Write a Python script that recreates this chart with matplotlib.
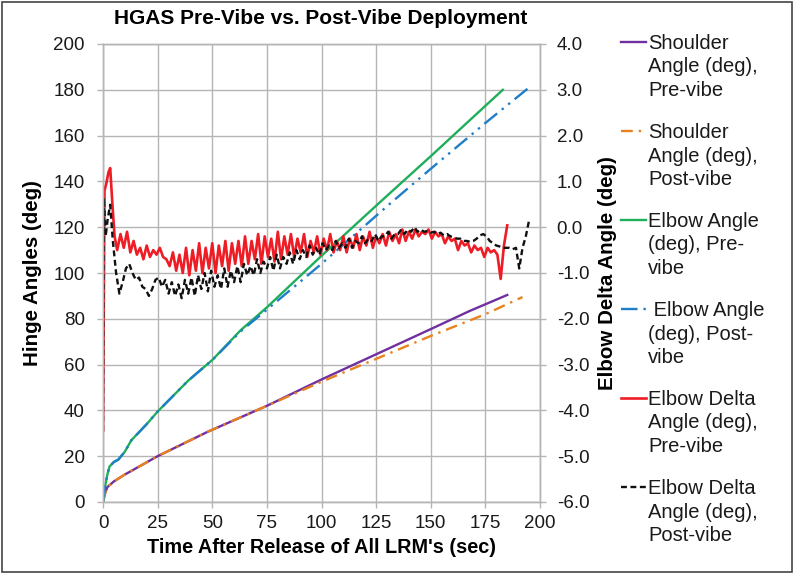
import numpy as np
import matplotlib
matplotlib.use("Agg")
import matplotlib.pyplot as plt
from matplotlib.lines import Line2D
from matplotlib.patches import Rectangle

plt.rcParams['font.family'] = ['Liberation Sans', 'DejaVu Sans']

# ---------------- data ----------------
# Hinge angles (deg) vs time (s)
shoulder_pre_t = [0, 1, 2, 5, 10, 25, 48, 75, 100, 125, 150, 168, 185]
shoulder_pre = [0, 4, 6.5, 9, 12, 20, 30.7, 42, 53.5, 64.5, 75.5, 83.5, 90.4]

shoulder_post_t = [0, 1, 2, 5, 10, 25, 48, 75, 100, 125, 150, 175, 192]
shoulder_post = [0, 4, 6.5, 9, 12, 20, 30.7, 42, 52.5, 62.5, 72.5, 82, 89.5]

elbow_pre_t = [0, 1, 2, 3, 5, 7, 10, 13, 20, 25, 39, 50, 63, 75, 95, 100, 116, 128, 150, 175, 183]
elbow_pre = [0, 7, 12, 15.5, 17.5, 18.5, 22, 27, 34, 39.5, 53, 62, 75, 85, 103, 107.5, 121.5, 132, 151, 173, 180]

elbow_post_t = [0, 1, 2, 3, 5, 7, 10, 13, 20, 25, 39, 50, 63, 75, 95, 100, 131, 150, 175, 195]
elbow_post = [0, 7, 12, 15.5, 17.5, 18.5, 22, 27, 34, 39.5, 53, 62, 74.5, 84, 100, 104, 130, 145.5, 165.5, 181]

# Elbow delta angle (deg), initial transient (explicit times)
delta_pre_head_t = [0, 0.7, 1.5, 2.5, 3.3, 4.3, 5.3]
delta_pre_head = [-4.45, 0.8, 0.95, 1.2, 1.29, 0.5, -0.2]
# then sampled every 1.5 s starting at 6.5 s
delta_pre_tail_start = 6.5
delta_pre_tail = [
    -0.5, -0.15, -0.45, -0.1, -0.55, -0.3, -0.6, -0.45, -0.7, -0.4,
    -0.65, -0.5, -0.6, -0.45, -0.65, -0.7, -0.85, -0.55, -0.95, -0.6,
    -1.0, -0.45, -1.05, -0.5, -0.95, -0.35, -1.0, -0.45, -0.9, -0.35,
    -1.0, -0.4, -0.85, -0.3, -0.95, -0.35, -0.8, -0.3, -0.85, -0.2,
    -0.8, -0.3, -0.7, -0.15, -0.8, -0.2, -0.65, -0.25, -0.75, -0.1,
    -0.7, -0.2, -0.6, -0.15, -0.65, -0.25, -0.55, -0.15, -0.65, -0.3,
    -0.55, -0.2, -0.6, -0.25, -0.5, -0.15, -0.55, -0.3, -0.5, -0.2,
    -0.55, -0.25, -0.45, -0.15, -0.5, -0.2, -0.4, -0.1, -0.45, -0.2,
    -0.35, -0.15, -0.4, -0.1, -0.3, -0.15, -0.35, -0.05, -0.3, -0.1,
    -0.25, -0.05, -0.2, -0.1, -0.15, -0.05, -0.25, -0.1, -0.2, -0.15,
    -0.35, -0.2, -0.3, -0.25, -0.5, -0.3, -0.4, -0.35, -0.55, -0.4,
    -0.5, -0.45, -0.65, -0.45, -0.55, -0.5, -0.6, -1.13, -0.4, 0.04]

delta_post_head_t = [0, 0.4, 1.2, 2.2, 3.3, 4.5, 6.0, 7.5]
delta_post_head = [-4.45, 0.64, -0.2, 0.2, 0.49, -0.3, -1.0, -1.45]
delta_post_tail_start = 9.0
delta_post_tail = [
    -1.2, -0.9, -0.8, -1.0, -1.15, -1.1, -1.3, -1.35, -1.5, -1.35,
    -1.15, -1.1, -1.3, -1.15, -1.45, -1.2, -1.5, -1.25, -1.55, -1.15,
    -1.45, -1.1, -1.5, -1.05, -1.35, -1.0, -1.4, -0.95, -1.3, -1.05,
    -1.35, -0.9, -1.3, -0.95, -1.2, -0.85, -1.2, -0.8, -1.05, -0.85,
    -1.05, -0.7, -1.0, -0.75, -0.9, -0.65, -0.95, -0.6, -0.9, -0.65,
    -0.8, -0.55, -0.8, -0.5, -0.7, -0.5, -0.65, -0.4, -0.6, -0.45,
    -0.6, -0.35, -0.5, -0.4, -0.5, -0.3, -0.45, -0.35, -0.45, -0.25,
    -0.45, -0.3, -0.35, -0.2, -0.35, -0.25, -0.3, -0.15, -0.3, -0.2,
    -0.2, -0.1, -0.25, -0.15, -0.15, -0.05, -0.15, -0.05, -0.1, 0.0,
    -0.1, -0.05, -0.1, -0.08, -0.12, -0.1, -0.15, -0.12, -0.18, -0.15,
    -0.2, -0.22, -0.25, -0.25, -0.3, -0.3, -0.32, -0.3, -0.25, -0.18,
    -0.15, -0.2, -0.3, -0.35, -0.4, -0.42, -0.45, -0.45, -0.45, -0.48,
    -0.45, -0.9, -0.45, -0.2, 0.15]
DELTA_STEP = 1.5

x_ticks = [0, 25, 50, 75, 100, 125, 150, 175, 200]
left_ticks = [0, 20, 40, 60, 80, 100, 120, 140, 160, 180, 200]
right_ticks = [-6, -5, -4, -3, -2, -1, 0, 1, 2, 3, 4]

labels = ["Shoulder\nAngle (deg),\nPre-vibe",
          "Shoulder\nAngle (deg),\nPost-vibe",
          "Elbow Angle\n(deg), Pre-\nvibe",
          " Elbow Angle\n(deg), Post-\nvibe",
          "Elbow Delta\nAngle (deg),\nPre-vibe",
          "Elbow Delta\nAngle (deg),\nPost-vibe"]

# ---------------- build delta series ----------------
def build(head_t, head, start, tail):
    t_tail = start + DELTA_STEP * np.arange(len(tail))
    return np.concatenate([head_t, t_tail]), np.concatenate([head, tail])

dpre_t, dpre = build(delta_pre_head_t, delta_pre_head, delta_pre_tail_start, delta_pre_tail)
dpost_t, dpost = build(delta_post_head_t, delta_post_head, delta_post_tail_start, delta_post_tail)

# ---------------- styles ----------------
styles = [
    dict(color='#7030A0', lw=1.7, ls='-'),
    dict(color='#E8821E', lw=1.7, ls=(0, (5, 2.5, 1, 2.5))),
    dict(color='#1FAE5A', lw=1.7, ls='-'),
    dict(color='#1F7EC8', lw=1.7, ls=(0, (7, 2.5, 1, 2.5, 1, 2.5))),
    dict(color='#EE1C25', lw=1.9, ls='-'),
    dict(color='#111111', lw=1.7, ls=(0, (2.5, 1.5))),
]

# ---------------- figure ----------------
W, H = 794, 573
fig = plt.figure(figsize=(W / 100, H / 100), dpi=100)
ax = fig.add_axes([103 / W, 1 - 502 / H, (540 - 103) / W, (502 - 44) / H])
ax2 = ax.twinx()

ax.plot(shoulder_pre_t, shoulder_pre, **styles[0])
ax.plot(shoulder_post_t, shoulder_post, **styles[1])
ax.plot(elbow_pre_t, elbow_pre, **styles[2])
ax.plot(elbow_post_t, elbow_post, **styles[3])
ax2.plot(dpre_t, dpre, **styles[4])
ax2.plot(dpost_t, dpost, **styles[5])

ax.set_xlim(0, 200)
ax.set_ylim(0, 200)
ax2.set_ylim(-6, 4)
ax.set_xticks(x_ticks)
ax.set_yticks(left_ticks)
ax2.set_yticks(right_ticks)
ax2.set_yticklabels([f"{v:.1f}" for v in right_ticks])

grid_c = '#b5b5b5'
ax.grid(True, color=grid_c, lw=1.0)
ax.set_axisbelow(True)
for a in (ax, ax2):
    for s in a.spines.values():
        s.set_color(grid_c)
        s.set_linewidth(1.0)
    a.tick_params(colors=grid_c, labelcolor='#1a1a1a', labelsize=13.5, length=4, width=1)
ax.tick_params(axis='y', pad=9)
ax2.tick_params(axis='y', pad=8)
ax.tick_params(axis='x', pad=5)

ax.set_xlabel("Time After Release of All LRM's (sec)", fontsize=14.3, fontweight='bold', labelpad=5)
ax.set_ylabel("Hinge Angles (deg)", fontsize=14.8, fontweight='bold', labelpad=8)
ax2.set_ylabel("Elbow Delta Angle (deg)", fontsize=14.8, fontweight='bold', labelpad=6)

fig.text(321 / W, 1 - 19 / H, "HGAS Pre-Vibe vs. Post-Vibe Deployment",
         fontsize=15, fontweight='bold', ha='center', va='center')

# legend (drawn outside the axes, handle aligned with first text line)
first_y = 42
entry_gap = 89
line_gap = 25
for i, (lab, st) in enumerate(zip(labels, styles)):
    y0 = first_y + i * entry_gap
    fig.add_artist(Line2D([621 / W, 646 / W], [1 - y0 / H] * 2, transform=fig.transFigure,
                          color=st['color'], lw=st['lw'], ls=st['ls']))
    fig.text(648 / W, 1 - (y0 + line_gap) / H, lab, fontsize=14.5, ha='left', va='center',
             linespacing=1.3, color='#1a1a1a')

fig.add_artist(Rectangle((0.002, 0.002), 0.996, 0.994, transform=fig.transFigure,
                         fill=False, edgecolor='#444444', lw=1.2))

fig.savefig("out.png", dpi=100)
